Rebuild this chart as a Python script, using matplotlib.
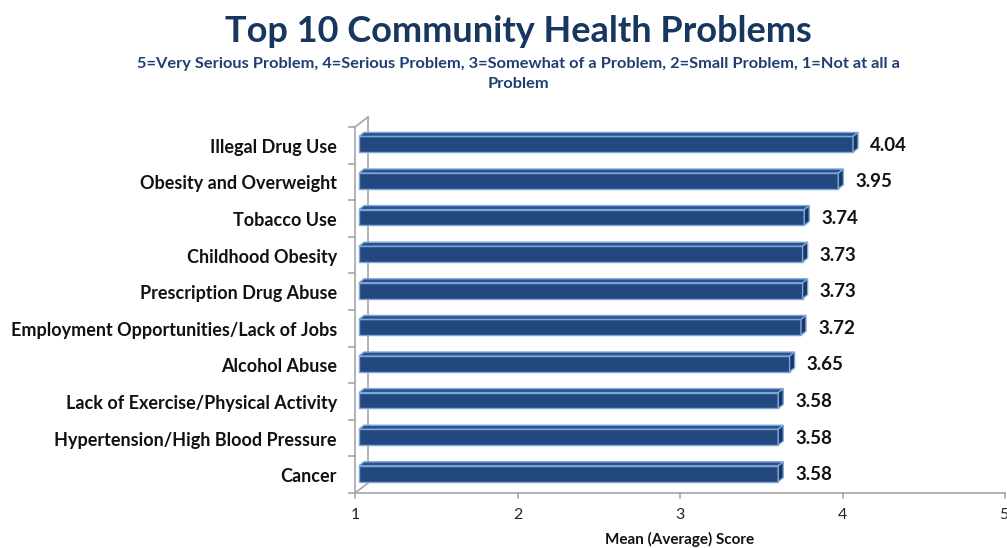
import matplotlib
matplotlib.use("Agg")
import matplotlib.pyplot as plt
from matplotlib.patches import Polygon
from matplotlib.lines import Line2D

# Survey results: mean seriousness score per community health problem
categories = [
    "Illegal Drug Use",
    "Obesity and Overweight",
    "Tobacco Use",
    "Childhood Obesity",
    "Prescription Drug Abuse",
    "Employment Opportunities/Lack of Jobs",
    "Alcohol Abuse",
    "Lack of Exercise/Physical Activity",
    "Hypertension/High Blood Pressure",
    "Cancer",
]
scores = [4.04, 3.95, 3.74, 3.73, 3.73, 3.72, 3.65, 3.58, 3.58, 3.58]
x_ticks = [1, 2, 3, 4, 5]

TITLE = "Top 10 Community Health Problems"
SUBTITLE = ("5=Very Serious Problem, 4=Serious Problem, 3=Somewhat of a Problem, "
            "2=Small Problem, 1=Not at all a\nProblem")
XLABEL = "Mean (Average) Score"

FONT = "Lato"
W, H, DPI = 1007, 548, 100
fig = plt.figure(figsize=(W / DPI, H / DPI), dpi=DPI)
fig.patch.set_facecolor("white")

# axes rectangle (front plane of the pseudo-3D chart)
ax_l, ax_r, ax_t, ax_b = 355, 1005, 127, 493
ax = fig.add_axes([ax_l / W, (H - ax_b) / H, (ax_r - ax_l) / W, (ax_b - ax_t) / H])
ax.set_xlim(x_ticks[0], x_ticks[-1])
ax.set_ylim(len(categories) - 0.5, -0.5)
ax.axis("off")

axis_color = "#a6a6a6"
wall_dx, wall_dy = 13, -10      # depth of the chart box, pixels
bar_dx, bar_dy = 5, -4          # depth of each bar, pixels
bar_x0, bar_y0 = 4, 1           # bar front face shift from the front plane, pixels
bar_h = 0.43                    # bar front face height (category units)

front_color = "#22487f"
top_color = "#2a5290"
side_color = "#173764"
edge_color = "#7fa6d8"

fig.canvas.draw()
to_px = ax.transData.transform


def px_poly(points, **kw):
    # points in display pixels (origin bottom-left)
    p = Polygon(points, closed=True, transform=None, **kw)
    fig.add_artist(p)


def px_line(xs, ys, **kw):
    fig.add_artist(Line2D(xs, ys, transform=None, **kw))


# chart frame: front left axis, back wall edge and the depth diagonals
yb = H - ax_b
yt = H - ax_t
px_line([ax_l, ax_l], [yb, yt], color=axis_color, lw=1.2)
px_line([ax_l, ax_l + wall_dx], [yt, yt - wall_dy], color=axis_color, lw=1.2)
px_line([ax_l + wall_dx, ax_l + wall_dx], [yt - wall_dy, yb - wall_dy],
        color=axis_color, lw=1.2)
px_line([ax_l, ax_l + wall_dx], [yb, yb - wall_dy], color=axis_color, lw=1.2)
px_line([ax_l, ax_r], [yb, yb], color=axis_color, lw=1.2)

# category separator ticks on the left axis
for i in range(len(categories) + 1):
    _, ty = to_px((1, i - 0.5))
    px_line([ax_l - 6, ax_l], [ty, ty], color=axis_color, lw=1.2)

# value ticks and labels along the bottom
for t in x_ticks:
    tx, _ = to_px((t, 0))
    px_line([tx, tx], [yb, yb - 5], color=axis_color, lw=1.2)
    last = t == x_ticks[-1]
    fig.text((tx + (3 if last else 0)) / W, (yb - 22) / H, str(t),
             ha="right" if last else "center", va="center",
             fontsize=11.5, family=FONT, color="#222222")

fig.text((ax_l + ax_r) / 2 / W, (H - 539) / H, XLABEL, ha="center", va="center",
         fontsize=11, fontweight="bold", family=FONT, color="#111111")

# bars drawn as front face + top face + right side face
for i, (cat, v) in enumerate(zip(categories, scores)):
    x0, yc = to_px((x_ticks[0], i))
    x1, _ = to_px((v, i))
    _, ytop = to_px((x_ticks[0], i - bar_h / 2))
    _, ybot = to_px((x_ticks[0], i + bar_h / 2))
    x0 += bar_x0
    x1 += bar_x0
    ytop += bar_y0
    ybot += bar_y0
    # front face
    px_poly([(x0, ybot), (x1, ybot), (x1, ytop), (x0, ytop)],
            facecolor=front_color, edgecolor=edge_color, lw=1.0, zorder=3)
    # top face
    px_poly([(x0, ytop), (x1, ytop), (x1 + bar_dx, ytop - bar_dy),
             (x0 + bar_dx, ytop - bar_dy)],
            facecolor=top_color, edgecolor=edge_color, lw=1.0, zorder=3)
    # side face
    px_poly([(x1, ybot), (x1 + bar_dx, ybot - bar_dy),
             (x1 + bar_dx, ytop - bar_dy), (x1, ytop)],
            facecolor=side_color, edgecolor=edge_color, lw=1.0, zorder=3)
    # value label
    fig.text((x1 + bar_dx + 12) / W, yc / H, f"{v:.2f}", ha="left", va="center",
             fontsize=13.5, fontweight="bold", family=FONT, color="#111111")
    # category label
    fig.text(337 / W, (yc - 2) / H, cat, ha="right", va="center",
             fontsize=13, fontweight="bold", family=FONT, color="#111111")

# titles
fig.text(518 / W, (H - 31) / H, TITLE, ha="center", va="center",
         fontsize=26, fontweight="bold", family=FONT, color="#17375e")
fig.text(518 / W, (H - 74) / H, SUBTITLE, ha="center", va="center",
         fontsize=11.8, fontweight="bold", family=FONT, color="#1f3f73",
         linespacing=1.55)

fig.savefig("out.png", dpi=DPI, facecolor="white")
